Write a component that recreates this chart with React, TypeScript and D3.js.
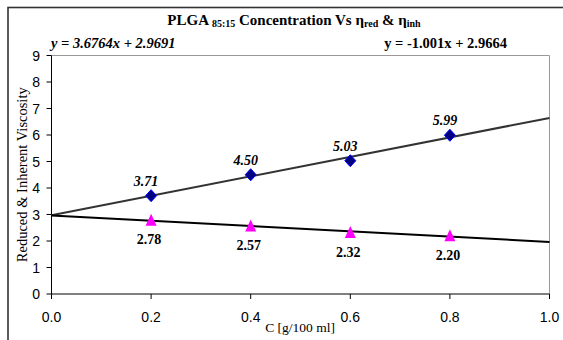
import React from 'react'
import * as d3 from 'd3'

// PLGA 85:15 reduced / inherent viscosity vs concentration
const conc = [0.2, 0.4, 0.6, 0.8]
const etaRed = [3.71, 4.5, 5.03, 5.99]
const etaInh = [2.78, 2.57, 2.32, 2.2]
const fitRed = { slope: 3.6764, icpt: 2.9691 }
const fitInh = { slope: -1.001, icpt: 2.9664 }
const yTicks = [0, 1, 2, 3, 4, 5, 6, 7, 8, 9]
const xTicks = [0, 0.2, 0.4, 0.6, 0.8, 1.0]

const W = 563, H = 340
const left = 51.5, right = 549.5, top = 55.5, bottom = 294

export default function App() {
  const x = d3.scaleLinear().domain([0, 1]).range([left, right])
  const y = d3.scaleLinear().domain([0, 9]).range([bottom, top])

  const redFit = d3.line<number>().x(d => x(d)).y(d => y(fitRed.slope * d + fitRed.icpt))
  const inhFit = d3.line<number>().x(d => x(d)).y(d => y(fitInh.slope * d + fitInh.icpt))
  const tri = 'M0,-6.5L5.5,5.5L-5.5,5.5Z'
  const diamond = 'M0,-6L5.5,0L0,6L-5.5,0Z'

  const serif = '"Liberation Serif", "Times New Roman", serif'
  const sans = '"Liberation Sans", Arial, sans-serif'

  return (
    <div style={{ position: 'absolute', left: 0, top: 0 }}>
      <svg width={W} height={H} style={{ display: 'block', background: '#fff' }}>
        {/* chart frame (cropped on right and bottom) */}
        <rect x={8} y={7.5} width={600} height={400} fill="none" stroke="#333" strokeWidth={1.6} />

        {/* title */}
        <text x={294} y={25} textAnchor="middle" fontFamily={serif} fontSize={15} fontWeight="bold">
          PLGA <tspan fontSize={10} dy={2}>85:15</tspan>
          <tspan dy={-2}> Concentration Vs η</tspan>
          <tspan fontSize={10} dy={2}>red</tspan>
          <tspan dy={-2}> &amp; η</tspan>
          <tspan fontSize={10} dy={2}>inh</tspan>
        </text>

        {/* regression equations */}
        <text x={51} y={47.5} fontFamily={serif} fontSize={14.5} fontWeight="bold" fontStyle="italic">
          y = 3.6764x + 2.9691
        </text>
        <text x={507} y={47.5} textAnchor="end" fontFamily={serif} fontSize={14.5} fontWeight="bold">
          y = -1.001x + 2.9664
        </text>

        {/* plot area border */}
        <path d={`M${left},${top}H${right}V${bottom}`} fill="none" stroke="#999" strokeWidth={1} />

        {/* axes */}
        <line x1={left} x2={left} y1={top} y2={bottom} stroke="#000" />
        <line x1={left} x2={right} y1={bottom} y2={bottom} stroke="#000" />
        {yTicks.map(t => (
          <g key={'y' + t}>
            <line x1={left - 5} x2={left} y1={y(t)} y2={y(t)} stroke="#000" />
            <text x={40} y={y(t)} dy="0.36em" textAnchor="end" fontFamily={sans} fontSize={14}>{t}</text>
          </g>
        ))}
        {xTicks.map(t => (
          <g key={'x' + t}>
            <line x1={x(t)} x2={x(t)} y1={bottom} y2={bottom + 5} stroke="#000" />
            <text x={x(t)} y={322} textAnchor="middle" fontFamily={sans} fontSize={14}>{t.toFixed(1)}</text>
          </g>
        ))}

        {/* axis titles */}
        <text x={300} y={332} textAnchor="middle" fontFamily={serif} fontSize={13.5}>C [g/100 ml]</text>
        <text transform={`translate(26.5,${(top + bottom) / 2}) rotate(-90)`} textAnchor="middle"
          fontFamily={serif} fontSize={14.5}>Reduced &amp; Inherent Viscosity</text>

        {/* trend lines */}
        <path d={redFit([0, 1]) || ''} fill="none" stroke="#333" strokeWidth={2} />
        <path d={inhFit([0, 1]) || ''} fill="none" stroke="#000" strokeWidth={2} />

        {/* reduced viscosity points */}
        {conc.map((c, i) => (
          <g key={'r' + i}>
            <path d={diamond} transform={`translate(${x(c)},${y(etaRed[i])})`} fill="#000080" stroke="#0000ff" strokeWidth={1} />
            <text x={x(c) - 5} y={y(etaRed[i]) - 10} textAnchor="middle" fontFamily={serif}
              fontSize={14} fontWeight="bold" fontStyle="italic">{etaRed[i].toFixed(2)}</text>
          </g>
        ))}

        {/* inherent viscosity points */}
        {conc.map((c, i) => (
          <g key={'h' + i}>
            <path d={tri} transform={`translate(${x(c)},${y(etaInh[i])})`} fill="#ff00ff" />
            <text x={x(c) - 2} y={y(etaInh[i]) + 24} textAnchor="middle" fontFamily={serif}
              fontSize={14} fontWeight="bold">{etaInh[i].toFixed(2)}</text>
          </g>
        ))}
      </svg>
    </div>
  )
}
